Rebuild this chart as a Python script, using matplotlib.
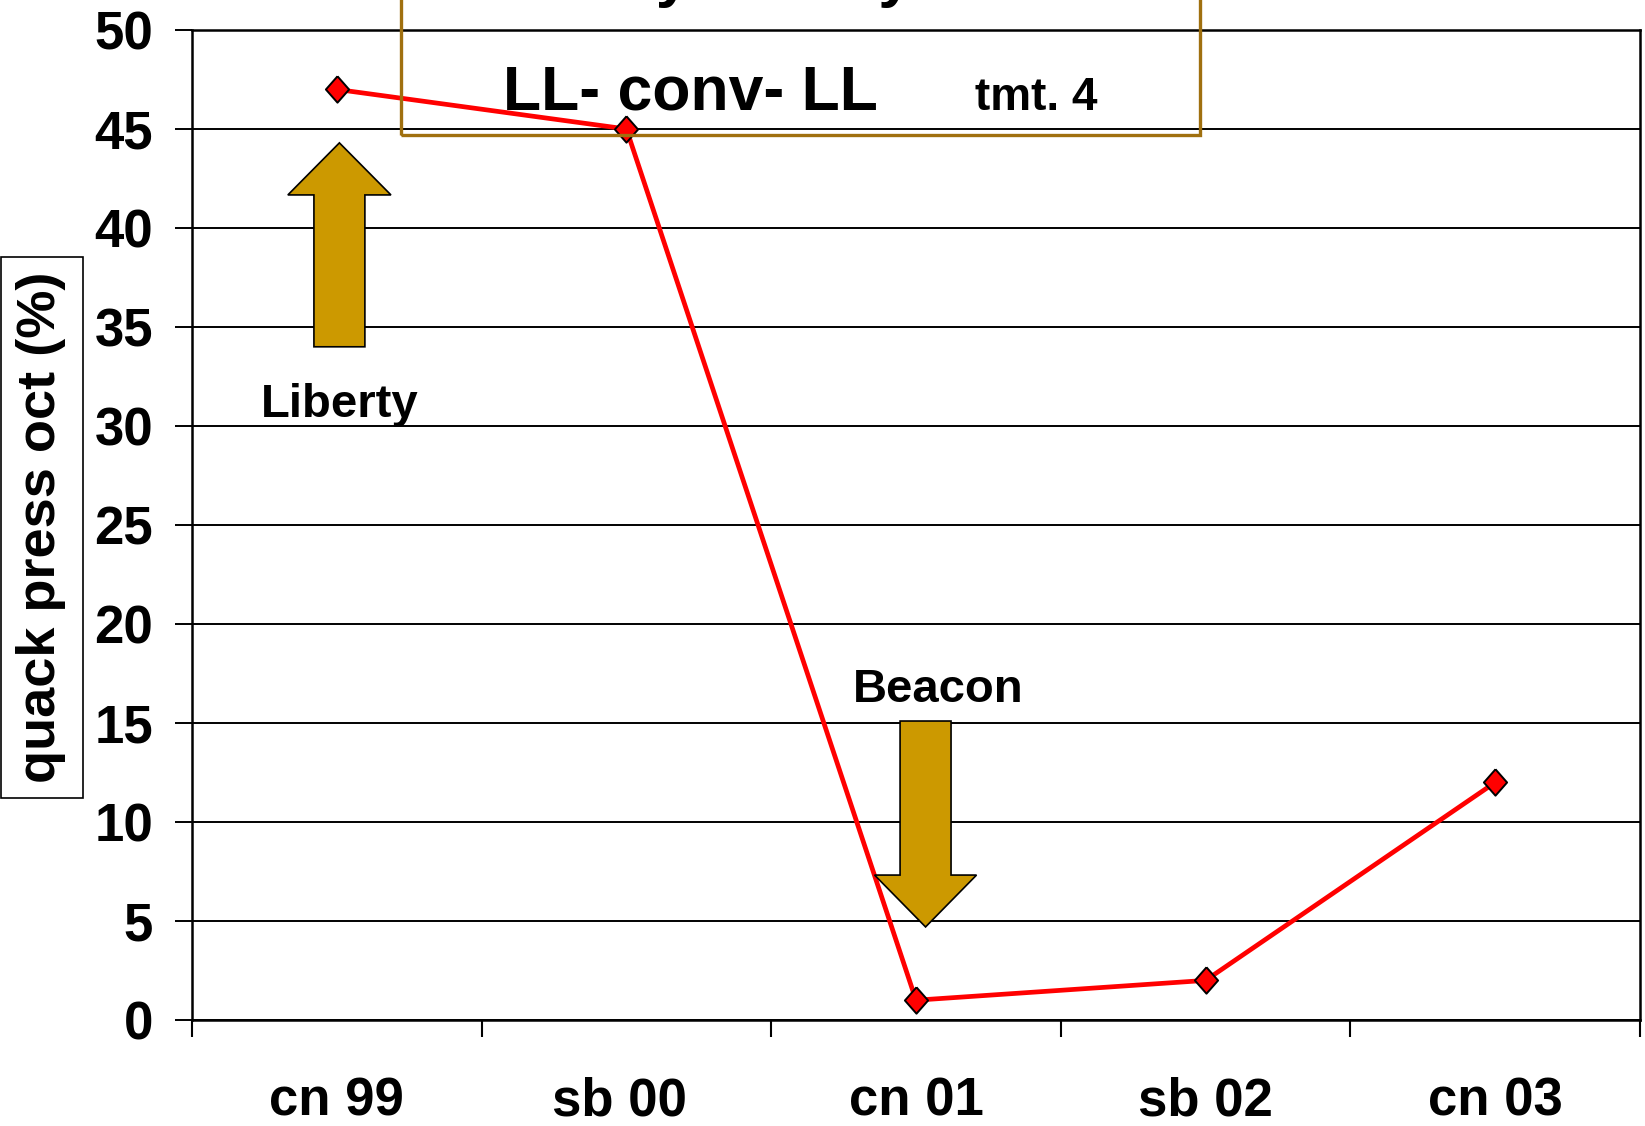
import matplotlib
matplotlib.use('Agg')
import matplotlib.pyplot as plt
from matplotlib.patches import Polygon, Rectangle
import numpy as np

# Data
seasons = ['cn 99', 'sb 00 ', 'cn 01', 'sb 02', 'cn 03']
quack_press = [47, 45, 1, 2, 12]
y_ticks = list(range(0, 51, 5))

W, H = 1645, 1126
plt.rcParams['font.family'] = ['Liberation Sans', 'DejaVu Sans']
plt.rcParams['font.weight'] = 'bold'

fig = plt.figure(figsize=(W / 100, H / 100), dpi=100)


def fx(px):
    return px / W


def fy(py):
    return 1 - py / H


ax = fig.add_axes([fx(192), fy(1020), fx(1640) - fx(192), fy(30) - fy(1020)])

x = np.arange(len(seasons))
diamond = [(0, 1), (0.88, 0), (0, -1), (-0.88, 0), (0, 1)]
ax.plot(x, quack_press, color='#FF0000', lw=3.4, marker=diamond, markersize=19,
        markerfacecolor='#FF0000', markeredgecolor='black', markeredgewidth=1.4,
        zorder=4, clip_on=False)

ax.set_xlim(-0.5, len(seasons) - 0.5)
ax.set_ylim(0, 50)
ax.set_yticks(y_ticks)
ax.set_yticklabels([str(v) for v in y_ticks], fontsize=38, fontweight='bold')
ax.yaxis.grid(True, color='black', lw=1.4)
ax.set_axisbelow(True)

# boundaries get tick marks, centers get the labels
ax.set_xticks(np.arange(-0.5, len(seasons), 1.0))
ax.set_xticklabels([])
ax.set_xticks(x, minor=True)
ax.set_xticklabels(seasons, minor=True, fontsize=38, fontweight='bold')
ax.tick_params(axis='x', which='major', direction='out', length=12, width=1.5)
ax.tick_params(axis='x', which='minor', length=0, pad=41)
ax.tick_params(axis='y', direction='out', length=12, width=1.4, pad=16)
for s in ax.spines.values():
    s.set_color('black')
    s.set_linewidth(1.8)

# arrows and their labels
arrow_fill = '#CC9900'
up = Polygon([(0.009, 44.3), (0.187, 41.67), (0.097, 41.67), (0.097, 34.0),
              (-0.079, 34.0), (-0.079, 41.67), (-0.169, 41.67)],
             closed=True, facecolor=arrow_fill, edgecolor='black', lw=1.2, zorder=5)
down = Polygon([(2.033, 4.7), (2.209, 7.32), (2.121, 7.32), (2.121, 15.1),
                (1.945, 15.1), (1.945, 7.32), (1.857, 7.32)],
               closed=True, facecolor=arrow_fill, edgecolor='black', lw=1.2, zorder=5)
ax.add_patch(up)
ax.add_patch(down)
ax.text(0.01, 30.45, 'Liberty', ha='center', va='baseline', fontsize=34, fontweight='bold')
ax.text(2.076, 16.06, 'Beacon', ha='center', va='baseline', fontsize=34, fontweight='bold')

# title box, cut off at the top
fig.text(fx(482), fy(-5), 'Liberty Variety', ha='left', va='baseline',
         fontsize=45, fontweight='bold')
fig.text(fx(503), fy(110), 'LL- conv- LL', ha='left', va='baseline',
         fontsize=45, fontweight='bold')
fig.text(fx(975), fy(110), 'tmt. 4', ha='left', va='baseline',
         fontsize=33, fontweight='bold')
fig.patches.append(Rectangle((fx(401), fy(135)), fx(1200) - fx(401), fy(-10) - fy(135),
                             transform=fig.transFigure, fill=False,
                             edgecolor='#A0700F', lw=2.4, zorder=10))

# y label in its own box
fig.patches.append(Rectangle((fx(1), fy(798)), fx(83) - fx(1), fy(257) - fy(798),
                             transform=fig.transFigure, fill=False,
                             edgecolor='black', lw=1.2))
fig.text(fx(41), fy(527), 'quack press oct (%)', rotation=90, ha='center', va='center',
         fontsize=39, fontweight='bold')

fig.savefig('out.png', dpi=100)
